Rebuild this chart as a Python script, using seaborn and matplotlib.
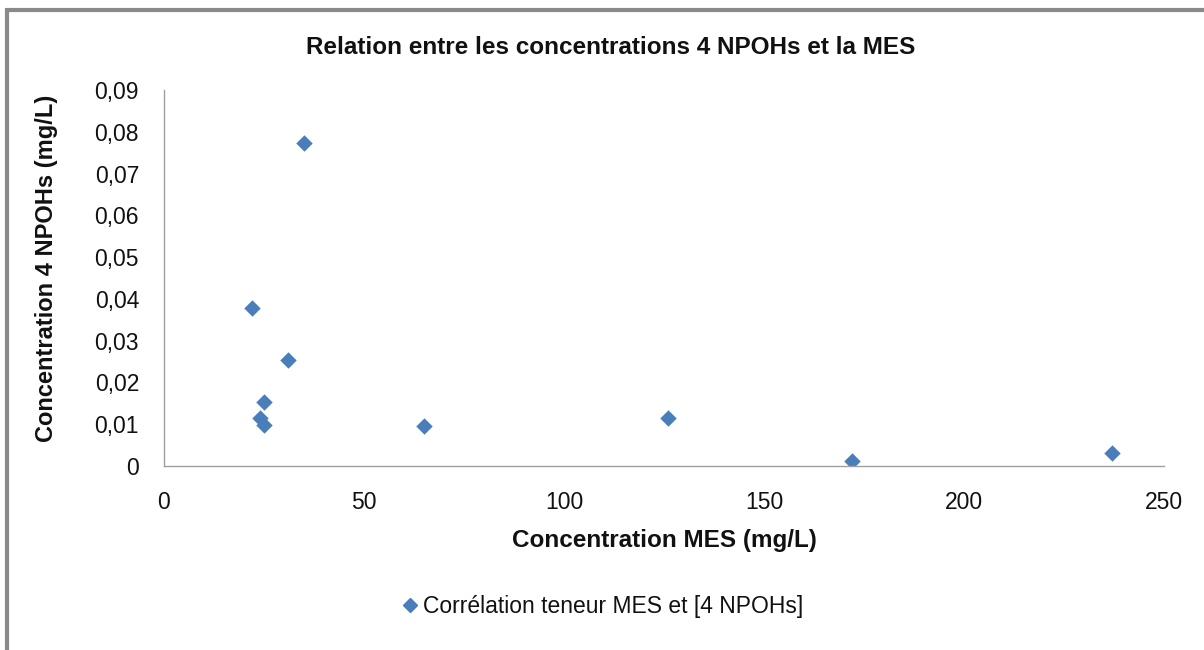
import matplotlib
matplotlib.use("Agg")
import matplotlib.pyplot as plt
import seaborn as sns
import pandas as pd
from matplotlib.ticker import FuncFormatter, MultipleLocator
from matplotlib.lines import Line2D

mes = [35, 22, 31, 25, 24, 25, 65, 126, 172, 237]
npoh = [0.0772, 0.0378, 0.0254, 0.0152, 0.0115, 0.0098, 0.0096, 0.0115, 0.0012, 0.0030]
series_label = "Corrélation teneur MES et [4 NPOHs]"

df = pd.DataFrame({"MES": mes, "NPOH": npoh})

sns.set_style("white")
plt.rcParams['font.family'] = ['Liberation Sans', 'DejaVu Sans']

W, H = 1204, 650
fig = plt.figure(figsize=(W / 100, H / 100), dpi=100)
ax = fig.add_axes([164 / W, 1 - 466 / H, 1000 / W, 376 / H])

color = "#4A7EBB"
sns.scatterplot(data=df, x="MES", y="NPOH", ax=ax, marker="D", s=70,
                color=color, edgecolor=color, linewidth=0, legend=False)

ax.set_xlim(0, 250)
ax.set_ylim(0, 0.09)
ax.xaxis.set_major_locator(MultipleLocator(50))
ax.yaxis.set_major_locator(MultipleLocator(0.01))
ax.yaxis.set_major_formatter(FuncFormatter(lambda v, p: "0" if abs(v) < 1e-9 else f"{v:.2f}".replace(".", ",")))
ax.xaxis.set_major_formatter(FuncFormatter(lambda v, p: f"{v:.0f}"))

for s in ["top", "right"]:
    ax.spines[s].set_visible(False)
for s in ["left", "bottom"]:
    ax.spines[s].set_color("#a0a0a0")
    ax.spines[s].set_linewidth(1.0)
ax.tick_params(axis="both", which="major", direction="out", length=6, width=1,
               color="#a0a0a0", labelsize=16.5, labelcolor="#111111")
ax.tick_params(axis="y", pad=12)
ax.tick_params(axis="x", pad=12)

ax.set_xlabel("")
ax.set_ylabel("")
fig.text(664 / W, 1 - 541 / H, "Concentration MES (mg/L)", ha="center", va="center",
         fontsize=17.5, fontweight="bold", color="#111111")
fig.text(47 / W, 1 - 268 / H, "Concentration 4 NPOHs (mg/L)", ha="center", va="center",
         rotation=90, fontsize=17, fontweight="bold", color="#111111")

fig.text(611 / W, 1 - 47 / H, "Relation entre les concentrations 4 NPOHs et la MES",
         ha="center", va="center", fontsize=17.5, fontweight="bold", color="#111111")

handle = Line2D([], [], marker="D", linestyle="none", color=color, markersize=7)
fig.legend([handle], [series_label], loc="center", bbox_to_anchor=(601 / W, 1 - 607 / H),
           frameon=False, fontsize=16.5, handletextpad=0.1, handlelength=1.0,
           labelcolor="#111111")

# chart-area border (top and left, Excel-like shadowed edge)
fig.add_artist(Line2D([6 / W, 1], [1 - 9.5 / H, 1 - 9.5 / H], transform=fig.transFigure,
                      color="#8a8a8a", linewidth=3, solid_capstyle="butt"))
fig.add_artist(Line2D([7 / W, 7 / W], [0, 1 - 8 / H], transform=fig.transFigure,
                      color="#8a8a8a", linewidth=3, solid_capstyle="butt"))

fig.savefig("out.png", dpi=100, facecolor="white")
